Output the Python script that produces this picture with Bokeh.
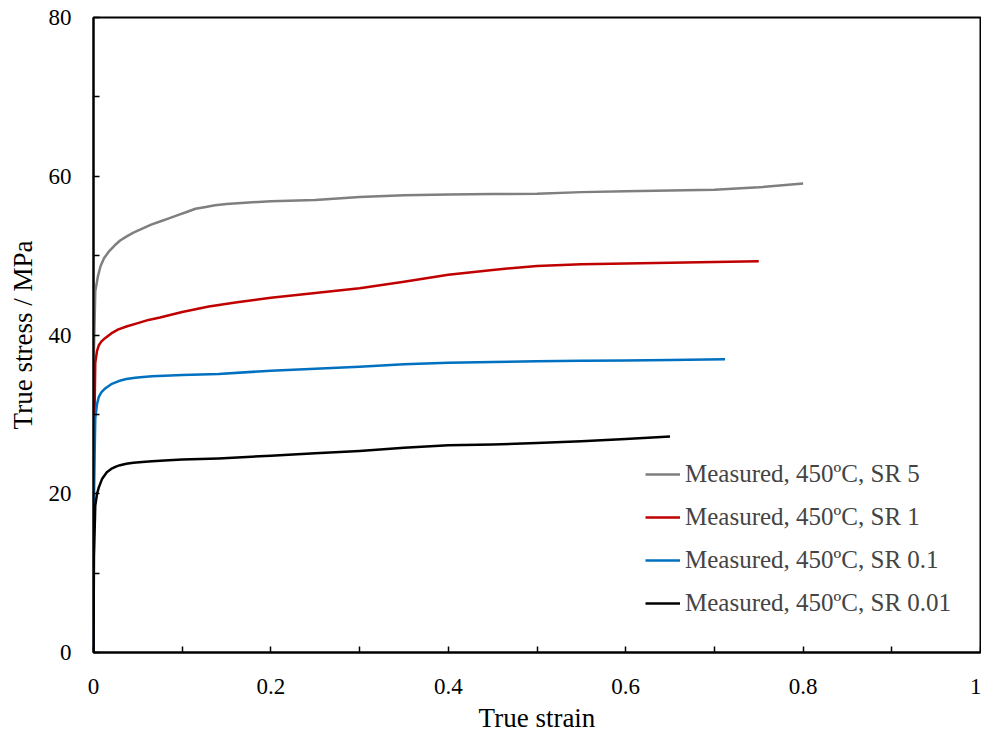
from bokeh.plotting import figure
from bokeh.models import FixedTicker, Legend, LegendItem, Range1d
from bokeh.embed import file_html
from bokeh.resources import INLINE

# ---- data ----
sr5_strain = [0, 0.0005, 0.002, 0.005, 0.008, 0.012, 0.018, 0.024, 0.03, 0.037, 0.045, 0.055, 0.065,
              0.075, 0.085, 0.095, 0.105, 0.115, 0.125, 0.137, 0.15, 0.175, 0.2,
              0.25, 0.3, 0.35, 0.4, 0.45, 0.5, 0.55, 0.6, 0.65, 0.7, 0.75, 0.8]
sr5_stress = [0, 38, 45.5, 47.4, 48.7, 49.7, 50.6, 51.3, 51.9, 52.4, 52.9, 53.4, 53.9,
              54.3, 54.7, 55.1, 55.5, 55.9, 56.1, 56.35, 56.5, 56.7, 56.85,
              57.0, 57.4, 57.6, 57.7, 57.75, 57.8, 58.0, 58.1, 58.2, 58.3, 58.6, 59.1]

sr1_strain = [0, 0.0005, 0.002, 0.004, 0.006, 0.009, 0.013, 0.02, 0.028, 0.038, 0.05, 0.062, 0.075,
              0.1, 0.13, 0.16, 0.2, 0.25, 0.3, 0.35, 0.4, 0.45, 0.5, 0.55, 0.6, 0.65, 0.7, 0.75]
sr1_stress = [0, 25, 36.5, 38.0, 38.7, 39.2, 39.6, 40.2, 40.7, 41.1, 41.5, 41.9, 42.2,
              42.9, 43.6, 44.1, 44.7, 45.3, 45.9, 46.7, 47.6, 48.2, 48.7, 48.9, 49.0, 49.1, 49.2, 49.3]

sr01_strain = [0, 0.0005, 0.002, 0.004, 0.006, 0.009, 0.0135, 0.02, 0.0285, 0.037, 0.047, 0.056, 0.066,
               0.08, 0.1, 0.141, 0.2, 0.25, 0.3, 0.35, 0.4, 0.45, 0.5, 0.55, 0.6, 0.65, 0.712]
sr01_stress = [0, 20, 29.5, 31.3, 32.2, 32.8, 33.3, 33.8, 34.2, 34.45, 34.6, 34.72, 34.8,
               34.88, 34.95, 35.1, 35.5, 35.75, 36.0, 36.3, 36.5, 36.6, 36.7, 36.75, 36.8, 36.85, 36.95]

sr001_strain = [0, 0.0005, 0.002, 0.004, 0.006, 0.0098, 0.015, 0.021, 0.026, 0.03, 0.037, 0.045, 0.055,
                0.066, 0.08, 0.1, 0.141, 0.2, 0.25, 0.3, 0.35, 0.4, 0.45, 0.5, 0.55, 0.6, 0.65]
sr001_stress = [0, 12, 18.5, 20.0, 20.8, 21.9, 22.7, 23.2, 23.45, 23.6, 23.78, 23.9, 24.0,
                24.1, 24.2, 24.3, 24.45, 24.8, 25.1, 25.4, 25.8, 26.1, 26.2, 26.4, 26.6, 26.9, 27.2]

labels = ["Measured, 450ºC, SR 5", "Measured, 450ºC, SR 1",
          "Measured, 450ºC, SR 0.1", "Measured, 450ºC, SR 0.01"]
colors = ["#7f7f7f", "#c00000", "#0070c0", "#000000"]

x_major = [0, 0.2, 0.4, 0.6, 0.8, 1.0]
x_minor = [0.1, 0.3, 0.5, 0.7, 0.9]
y_major = [0, 20, 40, 60, 80]
y_minor = [10, 30, 50, 70]

FONT = "Liberation Serif"

p = figure(width=981, height=735, output_backend="svg", toolbar_location=None,
           x_range=Range1d(0, 1), y_range=Range1d(0, 80),
           min_border_left=93, min_border_right=1, min_border_top=17, min_border_bottom=80,
           background_fill_color="white", border_fill_color="white")
p.grid.visible = False
p.outline_line_color = "black"
p.outline_line_width = 2

series = [(sr5_strain, sr5_stress), (sr1_strain, sr1_stress),
          (sr01_strain, sr01_stress), (sr001_strain, sr001_stress)]
items = []
for (xs, ys), c, lab in zip(series, colors, labels):
    r = p.line(xs, ys, line_color=c, line_width=2.5, line_join="round")
    items.append(LegendItem(label=lab, renderers=[r]))

p.xaxis.ticker = FixedTicker(ticks=x_major, minor_ticks=x_minor)
p.yaxis.ticker = FixedTicker(ticks=y_major, minor_ticks=y_minor)
p.xaxis.major_label_overrides = {0: "0", 0.2: "0.2", 0.4: "0.4", 0.6: "0.6", 0.8: "0.8", 1.0: "1"}

for ax in (p.xaxis[0], p.yaxis[0]):
    ax.axis_line_color = "black"
    ax.axis_line_width = 2
    ax.major_tick_in = 6
    ax.major_tick_out = 0
    ax.minor_tick_in = 6
    ax.minor_tick_out = 0
    ax.major_tick_line_width = 1.5
    ax.minor_tick_line_width = 1.5
    ax.major_label_text_font = FONT
    ax.major_label_text_font_size = "23px"
    ax.major_label_text_color = "black"
    ax.axis_label_text_font = FONT
    ax.axis_label_text_font_size = "27px"
    ax.axis_label_text_font_style = "normal"
    ax.axis_label_text_color = "black"

p.xaxis.axis_label = "True strain"
p.yaxis.axis_label = "True stress / MPa"
p.xaxis.major_label_standoff = 26
p.xaxis.axis_label_standoff = 6
p.yaxis.major_label_standoff = 22
p.yaxis.axis_label_standoff = 8

legend = Legend(items=items, location=(552, 35), padding=0, spacing=15,
                glyph_width=35, glyph_height=20, label_standoff=5,
                label_text_font=FONT, label_text_font_size="25px",
                border_line_color=None, background_fill_alpha=0)
p.add_layout(legend)

open("out.html", "w").write(file_html(p, INLINE))
